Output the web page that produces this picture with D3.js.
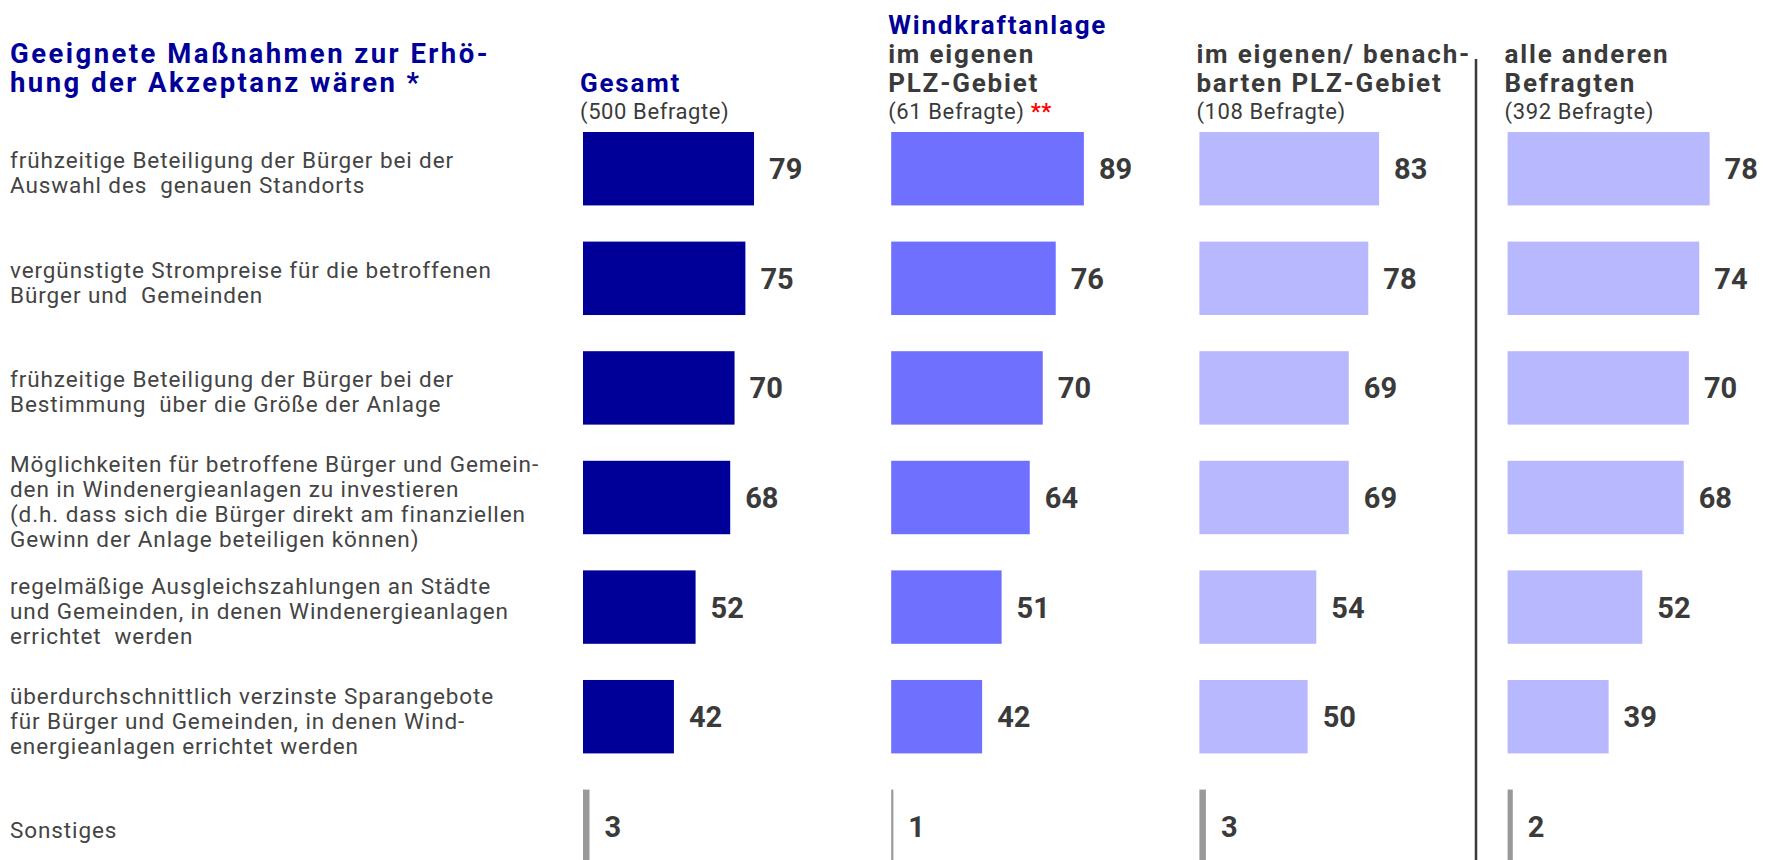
<!DOCTYPE html>
<html>
<head>
<meta charset="utf-8">
<script src="https://cdn.jsdelivr.net/npm/d3@7"></script>
<style>
  body { margin: 0; background: #fff; }
  svg { display: block; font-family: Roboto, 'Liberation Sans', sans-serif; }
</style>
</head>
<body>
<div id="chart"></div>
<script>
// Data

let categories = [
  ['frühzeitige Beteiligung der Bürger bei der', 'Auswahl des  genauen Standorts'],
  ['vergünstigte Strompreise für die betroffenen', 'Bürger und  Gemeinden'],
  ['frühzeitige Beteiligung der Bürger bei der', 'Bestimmung  über die Größe der Anlage'],
  ['Möglichkeiten für betroffene Bürger und Gemein-', 'den in Windenergieanlagen zu investieren', '(d.h. dass sich die Bürger direkt am finanziellen', 'Gewinn der Anlage beteiligen können)'],
  ['regelmäßige Ausgleichszahlungen an Städte', 'und Gemeinden, in denen Windenergieanlagen', 'errichtet  werden'],
  ['überdurchschnittlich verzinste Sparangebote', 'für Bürger und Gemeinden, in denen Wind-', 'energieanlagen errichtet werden'],
  ['Sonstiges']
]

let groups = ['gesamt', 'eigen', 'benachbart', 'andere']
let groupTitles = [['Gesamt'], ['Windkraftanlage', 'im eigenen', 'PLZ-Gebiet'], ['im eigenen/ benach-', 'barten PLZ-Gebiet'], ['alle anderen', 'Befragten']]
let groupBases = ['(500 Befragte)', '(61 Befragte)', '(108 Befragte)', '(392 Befragte)']

let gesamt = [79, 75, 70, 68, 52, 42, 3]
let eigen = [89, 76, 70, 64, 51, 42, 1]
let benachbart = [83, 78, 69, 69, 54, 50, 3]
let andere = [78, 74, 70, 68, 52, 39, 2]

let title = ['Geeignete Maßnahmen zur Erhö-', 'hung der Akzeptanz wären *']

// Set up

let width = 1772
let height = 860

let colors = ['#000099', '#7070ff', '#b8b8ff', '#b8b8ff']
let otherColor = '#999999'
let textColor = '#3a3a3a'

let svg = d3.select('#chart')
  .append('svg')
  .attr('width', width)
  .attr('height', height)

// Scales

let yPositionScale = d3.scaleBand()
  .domain(d3.range(categories.length))
  .range([132, 863])
  .paddingInner(0.33)
  .paddingOuter(0)
  .align(0)

let groupScale = d3.scalePoint()
  .domain(groups)
  .range([583, 1507.6])

// the last column is drawn on a wider scale in the original
let widthScale = d3.scaleLinear().domain([0, 100]).range([0, 216.5])
let widthScaleOther = d3.scaleLinear().domain([0, 100]).range([0, 259])

let seriesValues = [gesamt, eigen, benachbart, andere]

// Title

svg.append('text')
  .attr('x', 10)
  .attr('y', 62.5)
  .attr('font-size', 27.5)
  .attr('font-weight', 'bold')
  .attr('letter-spacing', 2.45)
  .attr('fill', '#000099')
  .selectAll('tspan')
  .data(title)
  .enter()
  .append('tspan')
  .attr('x', 10)
  .attr('dy', (d, i) => i === 0 ? 0 : 29.5)
  .text(d => d)

// Row labels

categories.forEach(function(lines, i) {
  let center = yPositionScale(i) + yPositionScale.bandwidth() / 2
  let first = center + 12 - (lines.length - 1) / 2 * 25
  svg.append('text')
    .attr('x', 10)
    .attr('y', first)
    .attr('font-size', 22.5)
    .attr('letter-spacing', 0.9)
    .attr('fill', '#444')
    .style('white-space', 'pre')
    .selectAll('tspan')
    .data(lines)
    .enter()
    .append('tspan')
    .attr('x', 10)
    .attr('dy', (d, j) => j === 0 ? 0 : 25)
    .text(d => d)
})

// Columns

groups.forEach(function(g, gi) {
  let x0 = groupScale(g)
  let scale = gi === 3 ? widthScaleOther : widthScale
  let col = svg.append('g').attr('class', 'column ' + g)

  // header
  let lines = groupTitles[gi]
  col.append('text')
    .attr('font-size', 26)
    .attr('font-weight', 'bold')
    .attr('letter-spacing', 1.8)
    .selectAll('tspan')
    .data(lines)
    .enter()
    .append('tspan')
    .attr('x', x0 - 3)
    .attr('y', (d, i) => 91.5 - (lines.length - 1 - i) * 29)
    .attr('fill', (d, i) => (gi < 2 && i === 0) ? '#000099' : textColor)
    .text(d => d)

  let base = col.append('text')
    .attr('x', x0 - 3)
    .attr('y', 119)
    .attr('font-size', 22)
    .attr('letter-spacing', 0.6)
    .attr('fill', textColor)
  base.append('tspan').text(groupBases[gi])
  if (gi === 1) {
    base.append('tspan')
      .attr('fill', '#ff0000')
      .attr('font-weight', 'bold')
      .text(' **')
  }

  // bars
  col.selectAll('.bar')
    .data(seriesValues[gi])
    .enter()
    .append('rect')
    .attr('class', 'bar')
    .attr('x', x0)
    .attr('y', (d, i) => yPositionScale(i))
    .attr('width', d => scale(d))
    .attr('height', yPositionScale.bandwidth())
    .attr('fill', (d, i) => i === categories.length - 1 ? otherColor : colors[gi])

  // value labels
  col.selectAll('.value')
    .data(seriesValues[gi])
    .enter()
    .append('text')
    .attr('class', 'value')
    .attr('x', d => x0 + scale(d) + 15)
    .attr('y', (d, i) => yPositionScale(i) + yPositionScale.bandwidth() / 2)
    .attr('dy', '0.36em')
    .attr('font-size', 29)
    .attr('font-weight', 'bold')
    .attr('fill', textColor)
    .text(d => d)
})

// Divider between the region groups and the rest

svg.append('line')
  .attr('x1', 1476)
  .attr('x2', 1476)
  .attr('y1', 59)
  .attr('y2', height)
  .attr('stroke', '#3a3a3a')
  .attr('stroke-width', 2.5)
</script>
</body>
</html>
